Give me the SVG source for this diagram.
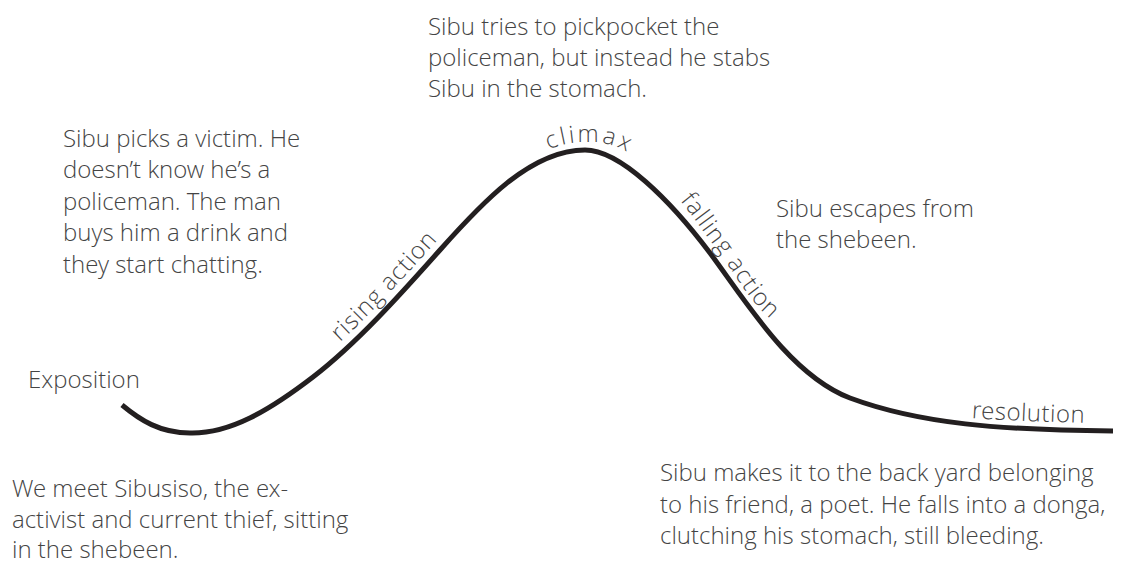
<svg xmlns="http://www.w3.org/2000/svg" xmlns:xlink="http://www.w3.org/1999/xlink" width="1138" height="561" viewBox="0 0 1138 561">
<style>
text{font-family:"Open Sans Light","Open Sans","Liberation Sans",sans-serif;font-weight:300;font-size:24px;fill:#444}
.curve{fill:none;stroke:#231f20;stroke-width:5}
</style>
<defs>
<path id="pRise" d="M307.5,370 C350,337 393.5,289 444,233"/>
<path id="pClimax" d="M528,162 C553,144 570,142 590,142 C610,142 630,150 652,170"/>
<path id="pFall" d="M660,178 C690,210 700,228 716,248 C735,275 750,300 766,315 C778,328 786,337 805,352"/>
<path id="pRes" d="M900,410 C950,418 1000,421 1125,424"/>
</defs>
<rect width="1138" height="561" fill="#fff"/>
<g id="connectors">
<path class="curve" d="M122,405 C140,420 160,433 190,433 C230,434 270,410 313,377 C356,344 400,295 440,250 C480,205 530,150 585,150 C620,150 670,200 710,253 C745,300 790,375 850,398 C920,424 1000,430 1113,431"/>
</g>
<g id="label-rising"><text letter-spacing="0.9"><textPath xlink:href="#pRise" href="#pRise" startOffset="43">rising action</textPath></text></g>
<g id="label-climax"><text letter-spacing="2.6"><textPath xlink:href="#pClimax" href="#pClimax" startOffset="24">climax</textPath></text></g>
<g id="label-falling"><text letter-spacing="1.1"><textPath xlink:href="#pFall" href="#pFall" startOffset="30">falling action</textPath></text></g>
<g id="label-resolution"><text letter-spacing="0.5"><textPath xlink:href="#pRes" href="#pRes" startOffset="72">resolution</textPath></text></g>
<g id="climax-text"><text x="428" y="35">Sibu tries to pickpocket the</text><text x="428" y="66">policeman, but instead he stabs</text><text x="428" y="97">Sibu in the stomach.</text></g>
<g id="rising-text"><text x="63" y="147">Sibu picks a victim. He</text><text x="63" y="178">doesn’t know he’s a</text><text x="63" y="210">policeman. The man</text><text x="63" y="241">buys him a drink and</text><text x="63" y="273">they start chatting.</text></g>
<g id="falling-text"><text x="776" y="217">Sibu escapes from</text><text x="776" y="248">the shebeen.</text></g>
<g id="exposition-label"><text x="28" y="388">Exposition</text></g>
<g id="exposition-text"><text x="12" y="497">We meet Sibusiso, the ex-</text><text x="12" y="528">activist and current thief, sitting</text><text x="12" y="558">in the shebeen.</text></g>
<g id="resolution-text"><text x="660" y="481">Sibu makes it to the back yard belonging</text><text x="660" y="513">to his friend, a poet. He falls into a donga,</text><text x="660" y="544">clutching his stomach, still bleeding.</text></g>
</svg>
